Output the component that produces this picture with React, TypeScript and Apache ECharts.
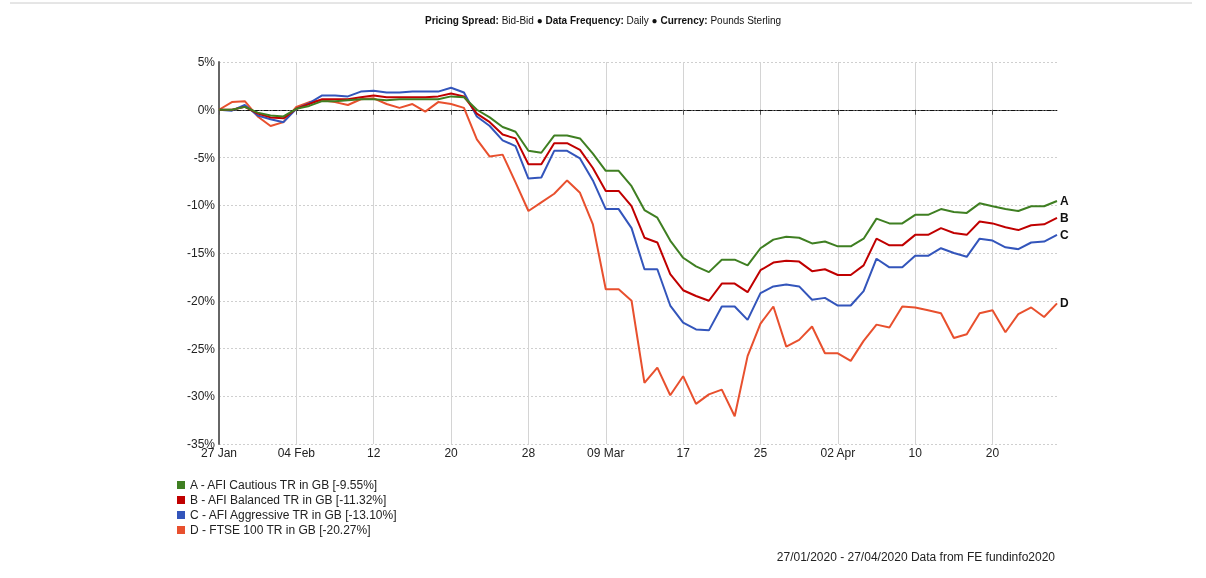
import { useEffect, useRef } from 'react'
import * as echarts from 'echarts'

// Business days 27 Jan – 27 Apr 2020; only every sixth day carries a label.
const TICK_LABELS: Record<number, string> = {
  0: '27 Jan', 6: '04 Feb', 12: '12', 18: '20', 24: '28', 30: '09 Mar',
  36: '17', 42: '25', 48: '02 Apr', 54: '10', 60: '20',
}
const DAYS = Array.from({ length: 66 }, (_, i) => String(i))

const CAUTIOUS = [
  0, 0, 0.3, -0.3, -0.6, -0.7, 0.1, 0.4, 0.9, 0.9, 1.0, 1.1, 1.1, 1.0, 1.1, 1.1, 1.1, 1.1, 1.4, 1.3,
  0.0, -0.8, -1.8, -2.3, -4.3, -4.5, -2.7, -2.7, -3.0, -4.6, -6.4, -6.4, -8.0, -10.5, -11.3, -13.7,
  -15.5, -16.4, -17.0, -15.7, -15.7, -16.3, -14.5, -13.6, -13.3, -13.4, -14.0, -13.8, -14.3, -14.3,
  -13.5, -11.4, -11.9, -11.9, -11.0, -11.0, -10.4, -10.7, -10.8, -9.8, -10.1, -10.4, -10.6, -10.1,
  -10.1, -9.55,
]
const BALANCED = [
  0, 0, 0.3, -0.4, -0.8, -0.9, 0.1, 0.6, 1.1, 1.1, 1.1, 1.3, 1.5, 1.3, 1.3, 1.3, 1.3, 1.4, 1.7, 1.4,
  -0.4, -1.3, -2.6, -3.0, -5.7, -5.7, -3.5, -3.5, -4.2, -6.1, -8.5, -8.5, -10.1, -13.4, -13.9, -17.2,
  -18.9, -19.5, -20.0, -18.2, -18.2, -19.1, -16.8, -16.0, -15.8, -15.9, -16.9, -16.7, -17.3, -17.3,
  -16.3, -13.5, -14.2, -14.2, -13.1, -13.1, -12.4, -12.9, -13.1, -11.7, -11.9, -12.3, -12.6, -12.1,
  -12.0, -11.32,
]
const AGGRESSIVE = [
  0, -0.1, 0.5, -0.6, -1.0, -1.3, 0.1, 0.7, 1.5, 1.5, 1.4, 1.9, 2.0, 1.8, 1.8, 1.9, 1.9, 1.9, 2.3, 1.8,
  -0.7, -1.7, -3.2, -3.8, -7.2, -7.1, -4.3, -4.3, -5.1, -7.4, -10.4, -10.4, -12.4, -16.7, -16.7, -20.5,
  -22.3, -23.0, -23.1, -20.6, -20.6, -22.0, -19.2, -18.5, -18.3, -18.5, -19.9, -19.7, -20.5, -20.5,
  -19.0, -15.6, -16.5, -16.5, -15.3, -15.3, -14.5, -15.0, -15.4, -13.5, -13.7, -14.4, -14.6, -13.9,
  -13.8, -13.1,
]
const FTSE = [
  0, 0.8, 0.9, -0.7, -1.7, -1.3, 0.3, 0.8, 1.0, 0.8, 0.5, 1.1, 1.2, 0.6, 0.2, 0.6, -0.2, 0.8, 0.6, 0.2,
  -3.1, -4.9, -4.7, -7.6, -10.6, -9.7, -8.8, -7.4, -8.7, -12.0, -18.8, -18.8, -20.0, -28.6, -27.0,
  -29.9, -27.9, -30.8, -29.8, -29.3, -32.1, -25.8, -22.4, -20.6, -24.8, -24.1, -22.7, -25.5, -25.5,
  -26.3, -24.2, -22.5, -22.8, -20.6, -20.7, -21.0, -21.3, -23.9, -23.5, -21.3, -21.0, -23.3, -21.4,
  -20.7, -21.7, -20.27,
]

const SERIES = [
  { name: 'A - AFI Cautious TR in GB [-9.55%]', tag: 'A', color: '#3f7f22', data: CAUTIOUS },
  { name: 'B - AFI Balanced TR in GB [-11.32%]', tag: 'B', color: '#c00000', data: BALANCED },
  { name: 'C - AFI Aggressive TR in GB [-13.10%]', tag: 'C', color: '#3355bb', data: AGGRESSIVE },
  { name: 'D - FTSE 100 TR in GB [-20.27%]', tag: 'D', color: '#e8502e', data: FTSE },
]

const FONT = '"Liberation Sans", Arial, sans-serif'
const showTick = (i: number) => TICK_LABELS[i] !== undefined

export default function App() {
  const ref = useRef<HTMLDivElement>(null)

  useEffect(() => {
    const el = ref.current
    if (!el) return
    const chart = echarts.init(el, undefined, { renderer: 'svg' })
    chart.setOption({
      animation: false,
      textStyle: { fontFamily: FONT },
      title: {
        left: 'center',
        top: 10,
        text: '{b|Pricing Spread:} Bid-Bid ● {b|Data Frequency:} Daily ● {b|Currency:} Pounds Sterling',
        textStyle: {
          fontSize: 10,
          fontWeight: 'normal',
          color: '#111',
          fontFamily: FONT,
          rich: { b: { fontSize: 10, fontWeight: 'bold', color: '#111', fontFamily: FONT } },
        },
      },
      legend: {
        left: 172,
        top: 474,
        orient: 'vertical',
        icon: 'rect',
        itemWidth: 8,
        itemHeight: 8,
        itemGap: 3,
        textStyle: { fontSize: 12, color: '#222', fontFamily: FONT },
        data: SERIES.map((s) => s.name),
      },
      grid: { left: 219, right: 149, top: 62, bottom: 134 },
      xAxis: {
        type: 'category',
        data: DAYS,
        boundaryGap: false,
        axisLine: { lineStyle: { color: '#555', width: 1 } },
        axisTick: { interval: (i: number) => showTick(i), length: 5, lineStyle: { color: '#555' } },
        axisLabel: {
          interval: (i: number) => showTick(i),
          formatter: (_v: string, i: number) => TICK_LABELS[i] ?? '',
          color: '#222',
          fontSize: 12,
          margin: 3,
        },
        splitLine: {
          show: true,
          interval: (i: number) => showTick(i),
          lineStyle: { color: '#d4d4d4' },
        },
      },
      yAxis: {
        type: 'value',
        min: -35,
        max: 5,
        interval: 5,
        axisLine: { show: true, lineStyle: { color: '#666', width: 2 } },
        axisTick: { show: false },
        axisLabel: { formatter: '{value}%', color: '#222', fontSize: 12, margin: 4 },
        splitLine: { lineStyle: { color: '#cfcfcf', type: [2, 2] } },
      },
      graphic: [
        { type: 'line', shape: { x1: 10, y1: 3, x2: 1192, y2: 3 }, style: { stroke: '#ccc', lineWidth: 1 } },
        {
          type: 'text',
          right: 151,
          top: 551,
          style: { text: '27/01/2020 - 27/04/2020 Data from FE fundinfo2020', fontSize: 12, fill: '#222', font: `12px ${FONT}` },
        },
      ],
      series: SERIES.map((s, k) => ({
        name: s.name,
        type: 'line',
        data: s.data,
        symbol: 'none',
        color: s.color,
        lineStyle: { width: 2, color: s.color },
        z: 10 - k,
        endLabel: {
          show: true,
          formatter: s.tag,
          color: '#111',
          fontWeight: 'bold',
          fontSize: 12,
          distance: 3,
        },
        markLine:
          k === 0
            ? {
                silent: true,
                symbol: 'none',
                label: { show: false },
                lineStyle: { color: '#111', type: [4, 2, 1, 2], width: 1 },
                data: [{ yAxis: 0 }],
              }
            : undefined,
      })),
    })
    return () => chart.dispose()
  }, [])

  return <div ref={ref} style={{ position: 'fixed', left: 0, top: 0, width: 1206, height: 578 }} />
}
